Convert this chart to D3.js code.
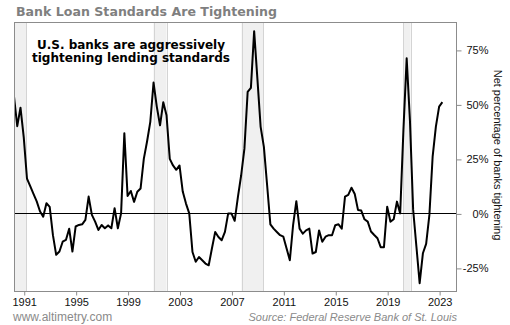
<!DOCTYPE html>
<html>
<head>
<meta charset="utf-8">
<script src="https://cdn.jsdelivr.net/npm/d3@7"></script>
<style>
  html, body { margin: 0; padding: 0; background: #fff; }
  svg { display: block; }
</style>
</head>
<body>
<svg id="chart" width="510" height="325"></svg>
<script>
// ---- data ----
const firstQuarter = 1990.25;           // first survey quarter (decimal year)
const quarterStep = 0.25;
const values = [
  53.6, 40, 48.5, 35, 16, 12.5, 9, 5.5, 1, -1.5,
  4.7, 3, -10, -19, -17.5, -13, -12.2, -7, -17.5, -6,
  -5.3, -5, -3, 7.7, -0.7, -3.8, -7.6, -5.3, -6.8, -5.5,
  -6.8, 2.4, -6.8, 0, 36.8, 8, 10.3, 5.3, 9.9, 11.4,
  25, 33, 42, 60, 49, 40.4, 51, 45, 25, 22,
  20, 22, 10, 4.5, 0, -17.7, -22.2, -20, -21.5, -23,
  -23.8, -16, -8.5, -10.8, -12.3, -8.5, 0, 0, -3.4, 7.6,
  17.5, 29.7, 55.7, 57.6, 83.6, 61.8, 39.7, 30.5, 12.9, -5,
  -7, -8.5, -10, -10.7, -16.1, -21.5, -5.4, 5.6, -7, -9.3,
  -7.8, -7, -18.4, -17.7, -7.8, -13, -10.7, -10, -10, -5.4,
  -5, -7, 7.7, 8.5, 11.8, 8.9, 1.6, 1.3, -2.7, -3.8,
  -8.3, -9.9, -11.4, -15.5, -15.5, 3.1, -3.8, -2.7, 5.4, 0,
  38.3, 71.2, 42.9, 1.6, -15.2, -32, -18.3, -14, -0.7, 26,
  39.8, 49, 51
];
const xTickYears = [1991, 1995, 1999, 2003, 2007, 2011, 2015, 2019, 2023];
const yTickValues = [-25, 0, 25, 50, 75];
const recessionStarts = [1990.25, 2001.0, 2007.78, 2020.24];
const recessionEnds   = [1991.2, 2002.0, 2009.47, 2020.8];
const titleText = "Bank Loan Standards Are Tightening";
const noteLines = ["U.S. banks are aggressively", "tightening lending standards"];
const yAxisTitle = "Net percentage of banks tightening";
const footerLeft = "www.altimetry.com";
const footerRight = "Source: Federal Reserve Bank of St. Louis";

// ---- layout ----
const plot = { left: 14, right: 456, top: 22, bottom: 291 };
const svg = d3.select("#chart");

const x = d3.scaleLinear().domain([1990.25, 2024.3]).range([plot.left, plot.right]);
const y = d3.scaleLinear().domain([-35.6, 87.8]).range([plot.bottom, plot.top]);

const series = values.map((v, i) => ({ t: firstQuarter + i * quarterStep, v }));

// clip
svg.append("defs").append("clipPath").attr("id", "clip")
  .append("rect")
  .attr("x", plot.left).attr("y", plot.top)
  .attr("width", plot.right - plot.left).attr("height", plot.bottom - plot.top);

// recession bands
const bands = svg.append("g").attr("clip-path", "url(#clip)");
recessionStarts.forEach((s, i) => {
  const x0 = x(s), x1 = x(recessionEnds[i]);
  bands.append("rect")
    .attr("x", x0).attr("y", plot.top)
    .attr("width", x1 - x0).attr("height", plot.bottom - plot.top)
    .attr("fill", "#f0f0f0");
  [x0, x1].forEach(xx => {
    bands.append("line")
      .attr("x1", Math.round(xx) + 0.5).attr("x2", Math.round(xx) + 0.5)
      .attr("y1", plot.top).attr("y2", plot.bottom)
      .attr("stroke", "#d4d4d4").attr("stroke-width", 1);
  });
});

// zero line
svg.append("line")
  .attr("x1", plot.left).attr("x2", plot.right)
  .attr("y1", Math.round(y(0)) + 0.5).attr("y2", Math.round(y(0)) + 0.5)
  .attr("stroke", "#000").attr("stroke-width", 1);

// series line
svg.append("path")
  .datum(series)
  .attr("clip-path", "url(#clip)")
  .attr("fill", "none")
  .attr("stroke", "#000")
  .attr("stroke-width", 2)
  .attr("stroke-linejoin", "round")
  .attr("d", d3.line().x(d => x(d.t)).y(d => y(d.v)));

// frame
svg.append("rect")
  .attr("x", plot.left + 0.5).attr("y", plot.top + 0.5)
  .attr("width", plot.right - plot.left).attr("height", plot.bottom - plot.top)
  .attr("fill", "none").attr("stroke", "#8c8c8c").attr("stroke-width", 1);

// x axis
const xAxis = svg.append("g")
  .attr("transform", `translate(0.5,${plot.bottom + 0.5})`)
  .call(d3.axisBottom(x).tickValues(xTickYears).tickFormat(d3.format("d")).tickSize(4).tickSizeOuter(0));
xAxis.select(".domain").remove();
xAxis.selectAll(".tick line").attr("stroke", "#8c8c8c");
xAxis.selectAll(".tick text")
  .attr("fill", "#111")
  .style("font-family", "'Liberation Sans', Arial, sans-serif")
  .style("font-size", "11px");

// y axis (right)
const yAxis = svg.append("g")
  .attr("transform", `translate(${plot.right + 0.5},0.5)`)
  .call(d3.axisRight(y).tickValues(yTickValues).tickFormat(d => d + "%").tickSize(5).tickSizeOuter(0));
yAxis.select(".domain").remove();
yAxis.selectAll(".tick line").attr("stroke", "#8c8c8c");
yAxis.selectAll(".tick text")
  .attr("x", 32)
  .attr("text-anchor", "end")
  .attr("fill", "#111")
  .style("font-family", "'Liberation Sans', Arial, sans-serif")
  .style("font-size", "11px");

// y axis title
svg.append("text")
  .attr("transform", `translate(494,155) rotate(90)`)
  .attr("text-anchor", "middle")
  .attr("fill", "#111")
  .style("font-family", "'Liberation Sans', Arial, sans-serif")
  .style("font-size", "11px")
  .text(yAxisTitle);

// title
svg.append("text")
  .attr("x", 16).attr("y", 15.5)
  .attr("fill", "#7f7f7f")
  .attr("textLength", 261).attr("lengthAdjust", "spacingAndGlyphs")
  .style("font-family", "'DejaVu Sans', Verdana, sans-serif")
  .style("font-weight", "bold")
  .style("font-size", "12.5px")
  .text(titleText);

// annotation
const noteWidths = [188, 198];
noteLines.forEach((line, i) => {
  svg.append("text")
    .attr("x", 131).attr("y", 48.5 + i * 13.5)
    .attr("text-anchor", "middle")
    .attr("fill", "#000")
    .attr("textLength", noteWidths[i]).attr("lengthAdjust", "spacingAndGlyphs")
    .style("font-family", "'DejaVu Sans', Verdana, sans-serif")
    .style("font-weight", "bold")
    .style("font-size", "12.5px")
    .text(line);
});

// footer
svg.append("text")
  .attr("x", 13).attr("y", 321)
  .attr("fill", "#8a8a8a")
  .style("font-family", "'Liberation Sans', Arial, sans-serif")
  .style("font-size", "12px")
  .text(footerLeft);
svg.append("text")
  .attr("x", 457).attr("y", 321)
  .attr("text-anchor", "end")
  .attr("fill", "#8a8a8a")
  .style("font-family", "'Liberation Sans', Arial, sans-serif")
  .style("font-style", "italic")
  .style("font-size", "11px")
  .text(footerRight);
</script>
</body>
</html>
